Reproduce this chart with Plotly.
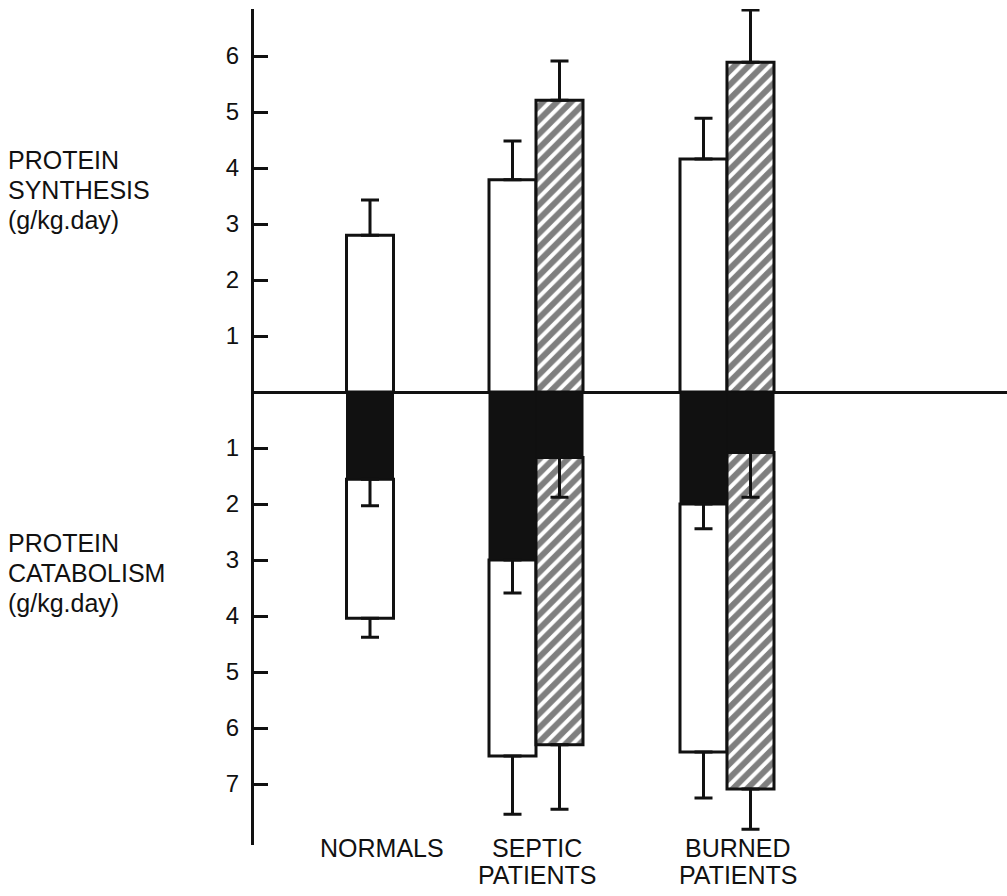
import plotly.graph_objects as go

# ---- data (g/kg.day) ----
groups = ["NORMALS", "SEPTIC<br>PATIENTS", "BURNED<br>PATIENTS"]

# open bars: present in every group
syn_open = [2.80, 3.79, 4.16]
syn_open_err = [0.63, 0.69, 0.73]
cat_open_total = [4.04, 6.50, 6.43]
cat_open_err = [0.34, 1.04, 0.82]
cat_open_black = [1.56, 3.00, 2.00]
cat_open_black_err = [0.47, 0.59, 0.44]

# hatched bars: septic and burned patients only
hatch_groups = ["SEPTIC<br>PATIENTS", "BURNED<br>PATIENTS"]
syn_hatch = [5.21, 5.89]
syn_hatch_err = [0.70, 0.93]
cat_hatch_total = [6.30, 7.09]
cat_hatch_err = [1.15, 0.72]
cat_hatch_black = [1.17, 1.08]
cat_hatch_black_err = [0.71, 0.80]

pos_ticks = [1, 2, 3, 4, 5, 6]
neg_ticks = [1, 2, 3, 4, 5, 6, 7]

side_titles = ["PROTEIN<br>SYNTHESIS<br>(g/kg.day)", "PROTEIN<br>CATABOLISM<br>(g/kg.day)"]

# ---- layout geometry ----
W, H = 1007, 896
ML, MR, MT, MB = 254, 0, 9, 51
PLOT_W = W - ML - MR
PLOT_H = H - MT - MB
PX_PER_UNIT = 56.0
ZERO_PX = 392
BAR_W = 47
group_center = {"NORMALS": 116, "SEPTIC<br>PATIENTS": 282, "BURNED<br>PATIENTS": 473}
label_center = {"NORMALS": 128, "SEPTIC<br>PATIENTS": 283, "BURNED<br>PATIENTS": 484}
LABEL_TOP_PX = 832
LABEL_LINE_PX = 27
side_title_mid_px = [190, 573]

y_top = (ZERO_PX - MT) / PX_PER_UNIT
y_bot = -(H - MB - ZERO_PX) / PX_PER_UNIT


def open_x(g):
    # a lone bar sits on the group centre, otherwise it is the left of a pair
    return group_center[g] if g not in hatch_groups else group_center[g] - BAR_W / 2


def hatch_x(g):
    return group_center[g] + BAR_W / 2


def paper_y(px):
    return 1 - (px - MT) / PLOT_H


FONT = "Liberation Sans, Arial, Helvetica, sans-serif"
INK = "#111111"
LINE = dict(color=INK, width=3)


def err(plus, minus):
    return dict(type="data", symmetric=False, array=plus, arrayminus=minus,
                color=INK, thickness=3, width=9)


ox = [open_x(g) for g in groups]
hx = [hatch_x(g) for g in hatch_groups]
hatch_pattern = dict(shape="/", fgcolor="#000000", bgcolor="white", size=10, solidity=0.6)

fig = go.Figure()

# synthesis (upward)
fig.add_trace(go.Bar(x=ox, y=syn_open, base=0, width=BAR_W,
                     marker=dict(color="white", line=LINE),
                     error_y=err(syn_open_err, [0] * len(groups))))
fig.add_trace(go.Bar(x=hx, y=syn_hatch, base=0, width=BAR_W,
                     marker=dict(color="white", pattern=hatch_pattern, line=LINE),
                     error_y=err(syn_hatch_err, [0] * len(hatch_groups))))

# catabolism (downward): lower open / hatched segment below the black part
fig.add_trace(go.Bar(x=ox, y=[-(t - b) for t, b in zip(cat_open_total, cat_open_black)],
                     base=[-b for b in cat_open_black], width=BAR_W,
                     marker=dict(color="white", line=LINE),
                     error_y=err([0] * len(groups), cat_open_err)))
fig.add_trace(go.Bar(x=hx, y=[-(t - b) for t, b in zip(cat_hatch_total, cat_hatch_black)],
                     base=[-b for b in cat_hatch_black], width=BAR_W,
                     marker=dict(color="white", pattern=hatch_pattern, line=LINE),
                     error_y=err([0] * len(hatch_groups), cat_hatch_err)))

# black upper segments of catabolism
fig.add_trace(go.Bar(x=ox, y=[-b for b in cat_open_black], base=0, width=BAR_W,
                     marker=dict(color=INK, line=dict(color=INK, width=1)),
                     error_y=err([0] * len(groups), cat_open_black_err)))
fig.add_trace(go.Bar(x=hx, y=[-b for b in cat_hatch_black], base=0, width=BAR_W,
                     marker=dict(color=INK, line=dict(color=INK, width=1)),
                     error_y=err([0] * len(hatch_groups), cat_hatch_black_err)))

annotations = []
# group names under the bars, one annotation per line for tighter leading
for g in groups:
    for i, line in enumerate(g.split("<br>")):
        annotations.append(dict(
            x=label_center[g] / PLOT_W, y=paper_y(LABEL_TOP_PX + i * LABEL_LINE_PX),
            xref="paper", yref="paper", text=line, showarrow=False,
            xanchor="center", yanchor="top",
            font=dict(family=FONT, size=25, color=INK)))

for txt, mid in zip(side_titles, side_title_mid_px):
    lines = txt.split("<br>")
    for i, line in enumerate(lines):
        annotations.append(dict(
            x=(6 - ML) / PLOT_W, y=paper_y(mid + (i - 1) * 30),
            xref="paper", yref="paper", text=line, showarrow=False,
            xanchor="left", yanchor="middle",
            font=dict(family=FONT, size=25, color=INK)))

tickvals = [-v for v in neg_ticks] + pos_ticks
ticktext = [str(v) for v in neg_ticks] + [str(v) for v in pos_ticks]

fig.update_layout(
    width=W, height=H,
    margin=dict(l=ML, r=MR, t=MT, b=MB),
    paper_bgcolor="white", plot_bgcolor="white",
    barmode="overlay", showlegend=False,
    xaxis=dict(range=[0, PLOT_W], visible=False, fixedrange=True),
    yaxis=dict(range=[y_bot, y_top], tickvals=tickvals, ticktext=ticktext,
               ticks="inside", ticklen=14, tickwidth=3, tickcolor=INK,
               showline=True, linewidth=3, linecolor=INK, mirror=False,
               showgrid=False, zeroline=True, zerolinecolor=INK, zerolinewidth=2.5,
               ticklabelstandoff=7,
               tickfont=dict(family=FONT, size=24, color=INK), fixedrange=True),
    annotations=annotations,
)

fig.write_html("out.html")
